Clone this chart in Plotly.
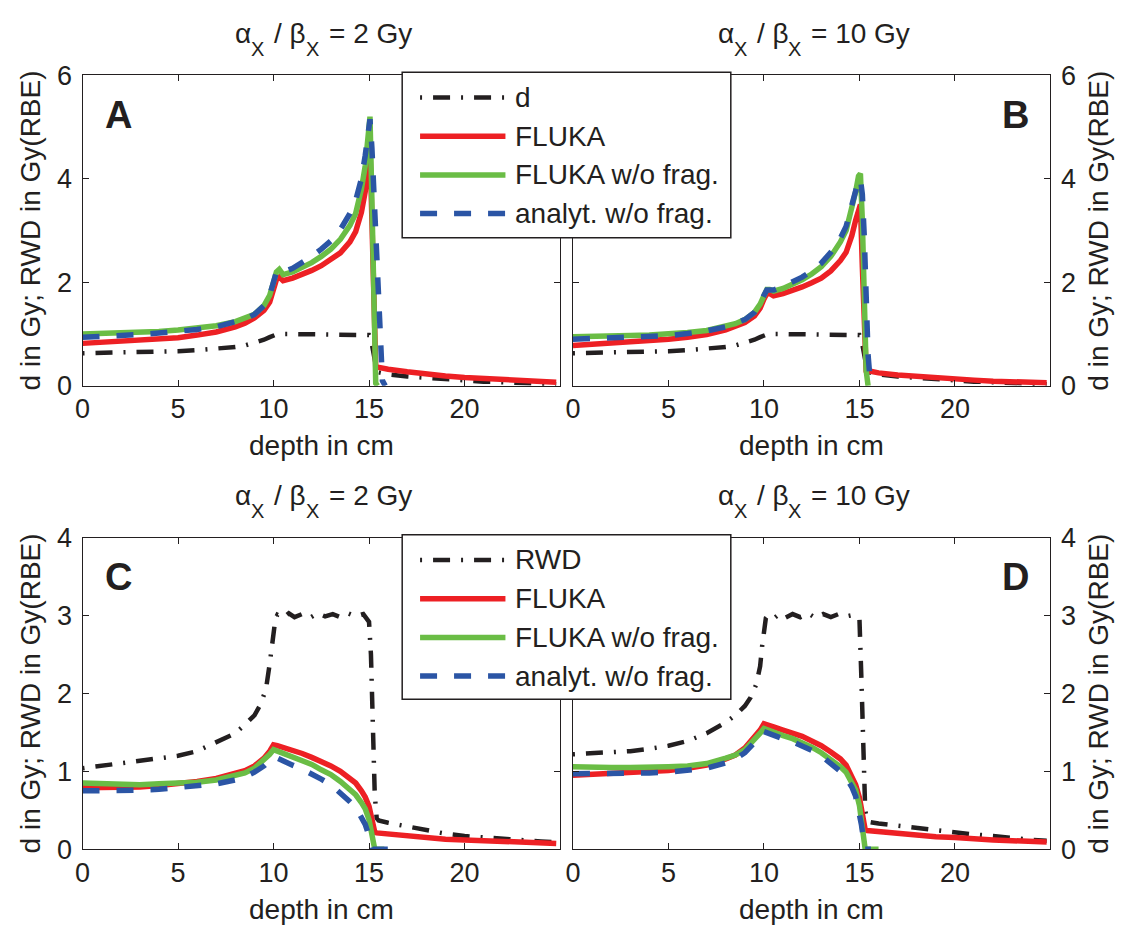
import plotly.graph_objects as go

# the page body adds an 8px margin, so the figure is laid out 8px up/left
OFF = 8
W, H = 1125 - 2 * OFF, 940 - 2 * OFF
FONT = "Liberation Sans, Arial, Helvetica, sans-serif"
BLACK = "#231f20"
RED = "#ed2024"
GREEN = "#6abd45"
BLUE = "#2b55a5"

# ---------------- data ----------------
# physical dose d (same in A and B)
depth_d = [0, 2, 4, 5, 6, 7, 8, 8.5, 9, 9.5, 9.8, 10.0, 10.2, 11, 12, 13, 14, 14.8,
           15.0, 15.1, 15.2, 15.3, 15.4, 15.5, 16, 17, 18, 19, 20, 21, 22, 23, 24, 24.8]
dose_d = [0.63, 0.64, 0.66, 0.67, 0.69, 0.71, 0.75, 0.78, 0.83, 0.89, 0.94, 0.98, 1.0, 1.0, 1.0, 1.0, 1.0, 1.0,
          0.98, 0.9, 0.7, 0.45, 0.3, 0.26, 0.22, 0.18, 0.15, 0.12, 0.1, 0.08, 0.07, 0.05, 0.04, 0.03]

depth_top = [0, 1, 2, 3, 4, 5, 6, 7, 8, 8.5, 9, 9.5, 9.8, 10.0, 10.15, 10.3, 10.5, 11, 11.5, 12,
             12.5, 13, 13.5, 14, 14.3, 14.6, 14.8, 14.95, 15.05, 15.15, 15.25, 15.35, 15.45, 15.55,
             15.7, 15.85, 16, 17, 18, 19, 20, 21, 22, 23, 24, 24.8]

# panel A, alpha/beta = 2 Gy
fluka_a = [0.82, 0.84, 0.86, 0.88, 0.9, 0.93, 0.98, 1.04, 1.14, 1.21, 1.31, 1.46, 1.62, 1.85, 2.05, 2.1,
           2.03, 2.08, 2.15, 2.23, 2.32, 2.43, 2.57, 2.78, 2.98, 3.35, 3.75, 4.3, 4.6, 3.2, 1.2, 0.38,
           0.36, 0.35, 0.34, 0.33, 0.32, 0.27, 0.22, 0.19, 0.16, 0.14, 0.12, 0.1, 0.08, 0.07]
nofrag_a = [1.0, 1.01, 1.02, 1.03, 1.05, 1.08, 1.11, 1.16, 1.24, 1.3, 1.38, 1.55, 1.75, 2.0, 2.2, 2.25,
            2.15, 2.2, 2.28, 2.38, 2.5, 2.64, 2.83, 3.1, 3.33, 3.8, 4.25, 4.95, 5.2, 3.6, 1.6, 0.05,
            0.0, None, None, None, None, None, None, None, None, None, None, None, None, None]
analyt_a = [0.94, 0.95, 0.97, 0.99, 1.02, 1.05, 1.09, 1.14, 1.23, 1.29, 1.38, 1.55, 1.75, 2.0, 2.2, 2.25,
            2.2, 2.27, 2.38, 2.5, 2.64, 2.8, 3.02, 3.33, 3.58, 4.0, 4.45, 4.95, 5.15, 4.6, 3.8, 2.9,
            2.0, 1.2, 0.1, 0.0, None, None, None, None, None, None, None, None, None, None]

# panel B, alpha/beta = 10 Gy
fluka_b = [0.78, 0.8, 0.82, 0.84, 0.87, 0.9, 0.94, 0.99, 1.08, 1.14, 1.22, 1.35, 1.5, 1.68, 1.78, 1.78,
           1.74, 1.78, 1.84, 1.91, 1.99, 2.08, 2.22, 2.42, 2.58, 2.9, 3.2, 3.45, 3.5, 2.3, 0.8, 0.3,
           0.29, 0.28, 0.27, 0.26, 0.25, 0.21, 0.18, 0.15, 0.13, 0.11, 0.09, 0.08, 0.07, 0.06]
nofrag_b = [0.95, 0.95, 0.96, 0.97, 0.98, 1.0, 1.03, 1.07, 1.15, 1.2, 1.28, 1.42, 1.58, 1.75, 1.86, 1.86,
            1.83, 1.88, 1.96, 2.05, 2.16, 2.3, 2.5, 2.78, 3.0, 3.4, 3.75, 4.05, 4.1, 3.2, 1.6, 0.3,
            0.0, None, None, None, None, None, None, None, None, None, None, None, None, None]
analyt_b = [0.9, 0.91, 0.92, 0.93, 0.95, 0.97, 1.01, 1.06, 1.14, 1.2, 1.28, 1.42, 1.58, 1.75, 1.85, 1.85,
            1.85, 1.92, 2.0, 2.1, 2.22, 2.37, 2.58, 2.85, 3.08, 3.45, 3.72, 3.97, 4.0, 3.7, 2.9, 1.6,
            0.6, 0.15, 0.0, None, None, None, None, None, None, None, None, None, None, None]

# RWD (bottom row)
depth_rwd = [0, 1, 2, 3, 4, 5, 6, 7, 8, 8.5, 9, 9.3, 9.6, 9.8, 9.9, 10.0, 10.1, 10.2, 10.5, 10.8, 11.1,
             11.5, 11.9, 12.3, 12.7, 13.1, 13.5, 13.9, 14.3, 14.7, 15.0, 15.1, 15.2, 15.3, 15.4, 15.5,
             16, 17, 18, 19, 20, 21, 22, 23, 24, 24.8]
rwd_c = [1.04, 1.07, 1.1, 1.13, 1.16, 1.2, 1.26, 1.37, 1.49, 1.6, 1.72, 1.85, 2.05, 2.38, 2.6, 2.82, 2.96,
         3.01, 2.97, 3.03, 2.98, 3.02, 2.97, 3.03, 2.99, 3.02, 2.98, 3.03, 2.99, 3.02, 2.92, 2.5, 1.5, 0.7,
         0.4, 0.37, 0.34, 0.29, 0.24, 0.2, 0.17, 0.15, 0.13, 0.11, 0.1, 0.09]
rwd_d = [1.22, 1.23, 1.24, 1.26, 1.29, 1.33, 1.39, 1.49, 1.63, 1.72, 1.84, 1.95, 2.12, 2.35, 2.6, 2.85,
         2.97, 3.0, 2.96, 3.02, 2.97, 3.02, 2.98, 3.03, 2.97, 3.02, 2.98, 3.02, 2.99, 3.01, 2.95, 2.2,
         1.1, 0.5, 0.37, 0.35, 0.33, 0.3, 0.27, 0.24, 0.21, 0.19, 0.17, 0.14, 0.12, 0.11]

depth_bot = [0, 1, 2, 3, 4, 5, 6, 7, 8, 8.5, 9, 9.5, 9.8, 10.0, 10.2, 10.5, 11, 11.5, 12, 12.5, 13,
             13.5, 14, 14.3, 14.6, 14.8, 15.0, 15.1, 15.2, 15.3, 15.4, 15.6, 15.8, 16, 17, 18, 19, 20,
             21, 22, 23, 24, 24.8]

# panel C, alpha/beta = 2 Gy
fluka_c = [0.79, 0.79, 0.79, 0.8, 0.82, 0.84, 0.87, 0.91, 0.97, 1.01, 1.07, 1.17, 1.26, 1.34, 1.33, 1.31,
           1.27, 1.23, 1.18, 1.13, 1.07, 1.0, 0.91, 0.85, 0.75, 0.67, 0.55, 0.45, 0.33, 0.22, 0.21,
           0.205, 0.2, 0.195, 0.17, 0.15, 0.13, 0.12, 0.11, 0.1, 0.09, 0.08, 0.075]
nofrag_c = [0.85, 0.84, 0.83, 0.83, 0.84, 0.85, 0.86, 0.89, 0.94, 0.98, 1.04, 1.14, 1.22, 1.28, 1.26,
            1.23, 1.19, 1.14, 1.09, 1.02, 0.96, 0.87, 0.77, 0.7, 0.6, 0.52, 0.38, 0.25, 0.1, 0.0, 0.0,
            0.0, 0.0, None, None, None, None, None, None, None, None, None, None]
analyt_c = [0.75, 0.75, 0.75, 0.76, 0.77, 0.79, 0.81, 0.84, 0.89, 0.93, 0.99, 1.07, 1.14, 1.19, 1.17,
            1.13, 1.08, 1.03, 0.97, 0.9, 0.83, 0.73, 0.61, 0.54, 0.42, 0.32, 0.17, 0.08, 0.0, 0.0, 0.0,
            0.0, 0.0, 0.0, None, None, None, None, None, None, None, None, None]

# panel D, alpha/beta = 10 Gy
fluka_d = [0.95, 0.96, 0.97, 0.98, 0.99, 1.01, 1.04, 1.08, 1.16, 1.21, 1.3, 1.43, 1.53, 1.61, 1.59, 1.57,
           1.53, 1.49, 1.45, 1.39, 1.33, 1.25, 1.16, 1.08, 0.95, 0.83, 0.66, 0.5, 0.36, 0.25, 0.24,
           0.235, 0.23, 0.225, 0.2, 0.18, 0.16, 0.15, 0.13, 0.12, 0.11, 0.1, 0.095]
nofrag_d = [1.06, 1.05, 1.05, 1.05, 1.05, 1.06, 1.07, 1.1, 1.17, 1.21, 1.28, 1.4, 1.49, 1.55, 1.53, 1.5,
            1.46, 1.42, 1.37, 1.31, 1.24, 1.16, 1.06, 0.99, 0.87, 0.76, 0.56, 0.38, 0.18, 0.0, 0.0, 0.0,
            0.0, 0.0, None, None, None, None, None, None, None, None, None]
analyt_d = [0.97, 0.97, 0.97, 0.97, 0.98, 0.99, 1.01, 1.04, 1.11, 1.16, 1.24, 1.36, 1.45, 1.51, 1.49,
            1.46, 1.42, 1.38, 1.33, 1.27, 1.2, 1.11, 1.0, 0.92, 0.8, 0.68, 0.48, 0.32, 0.15, 0.0, 0.0,
            0.0, None, None, None, None, None, None, None, None, None, None, None]

ratio_labels = ["2", "10"]          # alpha_X / beta_X in Gy
panel_letters = ["A", "B", "C", "D"]
legend_top = ["d", "FLUKA", "FLUKA w/o frag.", "analyt. w/o frag."]
legend_bot = ["RWD", "FLUKA", "FLUKA w/o frag.", "analyt. w/o frag."]

DASHDOT = "2px,11px,17px,11px"
DASH = "17px,17px"
styles = [dict(color=BLACK, width=4.5, dash=DASHDOT),
          dict(color=RED, width=5.5),
          dict(color=GREEN, width=5.5),
          dict(color=BLUE, width=5.5, dash=DASH)]


def px(x):
    # screenshot pixel -> paper fraction
    return (x - OFF) / W


def py(y):
    return 1 - (y - OFF) / H


fig = go.Figure()

panels = [
    ("x", "y", [(depth_d, dose_d), (depth_top, fluka_a), (depth_top, nofrag_a), (depth_top, analyt_a)]),
    ("x2", "y2", [(depth_d, dose_d), (depth_top, fluka_b), (depth_top, nofrag_b), (depth_top, analyt_b)]),
    ("x3", "y3", [(depth_rwd, rwd_c), (depth_bot, fluka_c), (depth_bot, nofrag_c), (depth_bot, analyt_c)]),
    ("x4", "y4", [(depth_rwd, rwd_d), (depth_bot, fluka_d), (depth_bot, nofrag_d), (depth_bot, analyt_d)]),
]
for i, (xa, ya, series) in enumerate(panels):
    names = legend_top if i < 2 else legend_bot
    for (xs, ys), st, nm in zip(series, styles, names):
        fig.add_trace(go.Scatter(x=xs, y=ys, mode="lines", line=st, name=nm,
                                 xaxis=xa, yaxis=ya, showlegend=False))

# axis geometry (screenshot pixels)
x_left = (75, 556)
x_right = (569, 1050)
y_top = (62, 383)
y_bot = (540, 862)

axis_common = dict(showline=True, linecolor=BLACK, linewidth=1.3, mirror="ticks",
                   ticks="inside", ticklen=6, tickwidth=1.3, tickcolor=BLACK,
                   showgrid=False, zeroline=False,
                   tickfont=dict(family=FONT, size=27, color=BLACK))

layout = dict(width=W, height=H, margin=dict(l=0, r=0, t=0, b=0),
              paper_bgcolor="white", plot_bgcolor="white", showlegend=False)
for k, (xd, yd, side) in enumerate([(x_left, y_top, "left"), (x_right, y_top, "right"),
                                    (x_left, y_bot, "left"), (x_right, y_bot, "right")]):
    sfx = "" if k == 0 else str(k + 1)
    layout["xaxis" + sfx] = dict(axis_common, domain=[px(xd[0]), px(xd[1])], range=[0, 25],
                                 tickvals=[0, 5, 10, 15, 20], anchor="y" + sfx,
                                 ticklabelstandoff=-1)
    top = k < 2
    layout["yaxis" + sfx] = dict(axis_common, domain=[py(yd[1]), py(yd[0])],
                                 range=[0, 6] if top else [0, 4],
                                 tickvals=[0, 2, 4, 6] if top else [0, 1, 2, 3, 4],
                                 side=side, anchor="x" + sfx, ticklabelstandoff=4)
fig.update_layout(**layout)

ann = []
F, FS = 28, 20
tf = dict(family=FONT, size=F, color=BLACK)
sf = dict(family=FONT, size=FS, color=BLACK)


def text_at(x, y, text, font, xanchor="left", yanchor="middle", **kw):
    ann.append(dict(x=px(x), y=py(y), text=text, showarrow=False, xref="paper", yref="paper",
                    xanchor=xanchor, yanchor=yanchor, font=font, **kw))


def title_at(cx, top, ratio):
    # alpha_X / beta_X = ... Gy, subscripts set as separate smaller texts
    gap = 10
    w_alpha, w_sub, w_mid = 0.578 * F, 0.667 * FS, 1.125 * F
    w_end = (2.418 + 0.556 * len(ratio)) * F
    total = w_alpha + w_sub + gap + w_mid + w_sub + gap + w_end
    s = cx - total / 2
    main_y, sub_y = top - 43.4, top - 27.4
    text_at(s, main_y, "\u03b1", tf)
    s += w_alpha
    text_at(s, sub_y, "X", sf)
    s += w_sub + gap
    text_at(s, main_y, "/ \u03b2", tf)
    s += w_mid
    text_at(s, sub_y, "X", sf)
    s += w_sub + gap
    text_at(s, main_y, "= %s Gy" % ratio, tf)


for (xd, yd), ratio, letter in zip([(x_left, y_top), (x_right, y_top), (x_left, y_bot), (x_right, y_bot)],
                                   ratio_labels * 2, panel_letters):
    cx = (xd[0] + xd[1]) / 2
    title_at(cx, yd[0], ratio)
    text_at(cx, yd[1] + 62, "depth in cm", tf, xanchor="center")
    lx = 111 if xd == x_left else 1015
    text_at(lx, yd[0] + 41, letter, dict(family=FONT, size=38, color=BLACK, weight="bold"),
            xanchor="center")
    tx = 23 if xd == x_left else 1098
    text_at(tx, (yd[0] + yd[1]) / 2, "d in Gy; RWD in Gy(RBE)", tf, xanchor="center", textangle=-90)

shapes = []
for (bx0, by0, bx1, by1), labels, rows in [((397, 59, 728, 230), legend_top, (85, 125, 165, 205)),
                                           ((397, 537, 728, 707), legend_bot, (563, 603, 643, 683))]:
    shapes.append(dict(type="rect", xref="paper", yref="paper", x0=px(bx0), x1=px(bx1),
                       y0=py(by1), y1=py(by0), fillcolor="white", line=dict(color=BLACK, width=1.5)))
    for lab, ry, st in zip(labels, rows, styles):
        shapes.append(dict(type="line", xref="paper", yref="paper", x0=px(415), x1=px(501),
                           y0=py(ry), y1=py(ry), line=st))
        text_at(509, ry, lab, tf)

fig.update_layout(annotations=ann, shapes=shapes)
fig.write_html("out.html")
